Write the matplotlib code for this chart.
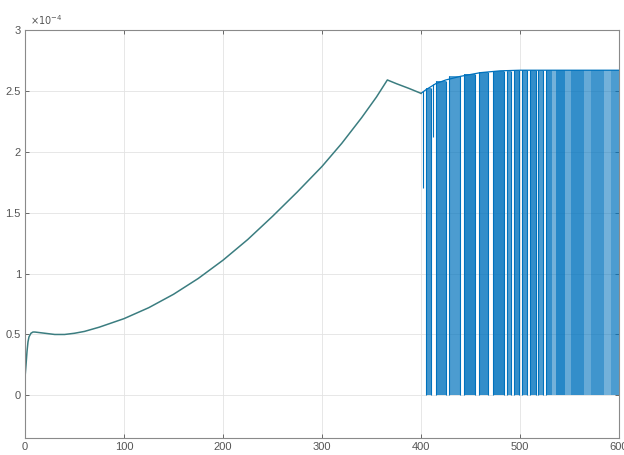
import numpy as np
import matplotlib
matplotlib.use('Agg')
import matplotlib.pyplot as plt

# smooth part of the signal (y in units of 1e-4)
x_smooth = [0, 1, 2, 3, 4, 6, 8, 10, 15, 20, 30, 40, 50, 60, 75, 100, 125, 150, 175, 200,
            225, 250, 275, 300, 320, 340, 355, 366, 375, 388, 400]
y_smooth = [0.15, 0.25, 0.36, 0.44, 0.48, 0.51, 0.52, 0.52, 0.515, 0.51, 0.50, 0.50, 0.51, 0.525, 0.56,
            0.63, 0.72, 0.83, 0.96, 1.11, 1.28, 1.47, 1.67, 1.88, 2.07, 2.28, 2.45, 2.59, 2.56, 2.52, 2.48]

# intervals where the signal switches fast between 0 and the upper level
band_start = [405, 415, 428, 443, 459, 473, 487, 494, 502, 510, 518, 526, 532, 536, 545, 552,
              565, 572, 585, 592]
band_end = [410, 425, 439, 455, 468, 484, 491, 499, 507, 516, 523, 532, 536, 545, 552, 565,
            572, 585, 592, 600]
band_top = [2.52, 2.58, 2.62, 2.64, 2.655, 2.66, 2.665, 2.67, 2.67, 2.67, 2.67, 2.67, 2.67, 2.67,
            2.67, 2.67, 2.67, 2.67, 2.67, 2.67]
band_alpha = [0.75, 0.8, 0.7, 0.85, 0.8, 0.85, 0.7, 0.8, 0.75, 0.8, 0.7, 0.8, 0.55, 0.85, 0.6,
              0.8, 0.6, 0.75, 0.55, 0.7]

# upper level of the signal after the switching starts
x_top = [400, 405, 415, 425, 440, 460, 480, 500, 600]
y_top = [2.48, 2.51, 2.56, 2.59, 2.62, 2.65, 2.665, 2.67, 2.67]

# single drops that do not reach zero
drop_x = [402, 412]
drop_y = [1.7, 2.12]

blue = '#0072BD'

fig = plt.figure(figsize=(6.24, 4.55), dpi=100)
ax = fig.add_axes([0.0401, 0.0374, 0.9519, 0.8966])

for a, b, t, al in zip(band_start, band_end, band_top, band_alpha):
    ax.fill_between([a, b], 0, t, color=blue, alpha=al, linewidth=0)
ax.vlines(band_start[:12], 0, band_top[:12], color=blue, linewidth=0.8)
ax.vlines(band_end[:11], 0, band_top[:11], color=blue, linewidth=0.8)

ax.plot(x_top, y_top, color=blue, linewidth=0.9)
ax.vlines(drop_x, drop_y, [2.5, 2.56], color=blue, linewidth=0.8)
ax.plot(x_smooth, y_smooth, color='#3b7d80', linewidth=1.1)

ax.set_xlim(0, 600)
ax.set_ylim(-0.35, 3)
ax.set_xticks(np.arange(0, 601, 100))
ax.set_yticks([0, 0.5, 1, 1.5, 2, 2.5, 3])
ax.set_yticklabels(['0', '0.5', '1', '1.5', '2', '2.5', '3'])
ax.grid(True, color='#e3e3e3', linewidth=0.6)
ax.set_axisbelow(True)
ax.tick_params(direction='in', length=3, width=0.6, labelsize=8, pad=3,
               colors='#555555', top=True, right=True)
for lbl in ax.get_xticklabels() + ax.get_yticklabels():
    lbl.set_fontfamily('Liberation Sans')
for s in ax.spines.values():
    s.set_color('#8a8a8a')
    s.set_linewidth(0.8)

ax.text(0.008, 1.008, r'$\times10^{-4}$', transform=ax.transAxes, fontsize=7,
        color='#555555', va='bottom', ha='left')

fig.savefig('out.png', dpi=100)
